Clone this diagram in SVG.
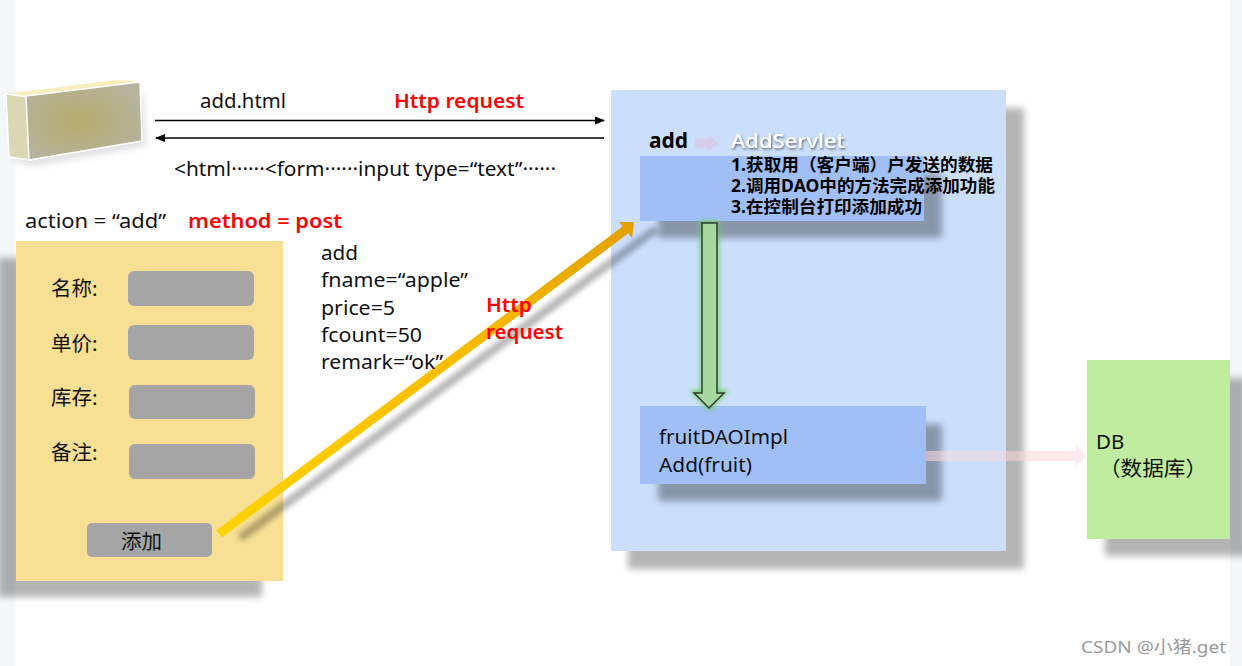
<svg xmlns="http://www.w3.org/2000/svg" width="1242" height="666" viewBox="0 0 1242 666">
<style>
text{font-family:"Noto Sans","Noto Sans CJK SC",sans-serif;font-size:20.5px;fill:#111}
.b{font-weight:700}
.r{font-weight:600;fill:#f00}
.s{font-weight:700;font-size:17.300px;fill:#000}
.sh{fill:#000;opacity:.29;filter:url(#blur)}
.sh2{fill:#000;opacity:.32;filter:url(#blur)}
.field{fill:#a5a5a5}
</style>
<defs>
<filter id="blur" x="-20%" y="-20%" width="140%" height="140%"><feGaussianBlur stdDeviation="3.500"/></filter>
<filter id="blur2" x="-100%" y="-20%" width="300%" height="140%"><feGaussianBlur stdDeviation="2.500"/></filter>
<filter id="ts" x="-10%" y="-30%" width="120%" height="160%"><feDropShadow dx="1" dy="1.500" stdDeviation=".8" flood-color="#000" flood-opacity=".55"/></filter>
<radialGradient id="box" cx=".45" cy=".5" r=".6"><stop offset="0" stop-color="#b7ad6e"/><stop offset="1" stop-color="#b6b29d"/></radialGradient>
<linearGradient id="gold" gradientUnits="userSpaceOnUse" x1="219" y1="534" x2="630" y2="226"><stop offset="0" stop-color="#ffd400"/><stop offset=".6" stop-color="#fbbb00"/><stop offset="1" stop-color="#e2a100"/></linearGradient>
<marker id="ah" markerWidth="10" markerHeight="8" refX="9" refY="4" orient="auto" markerUnits="userSpaceOnUse"><path d="M0 0L10 4L0 8Z" fill="#000"/></marker>
</defs>
<rect width="1242" height="666" fill="#fff"/>
<rect width="15.500" height="666" fill="#f4f6f9"/>
<rect x="1230" width="12" height="666" fill="#f4f6f9"/>
<g id="browser">
<path d="M10 160L34 166L146 146L143 92Z" fill="#000" opacity=".12" filter="url(#blur)"/>
<path d="M6 94L28 97L140 81L115 80Z" fill="#f8eebc"/>
<path d="M6 94L28 97L30 160L9 157Z" fill="#dbd6b4" stroke="#fff" stroke-width="1.500"/>
<path d="M26 96L140 82L142 141L29 160Z" fill="url(#box)" stroke="#fff" stroke-width="1.500"/>
</g>
<g id="form">
<rect x="-2" y="258" width="264" height="339" class="sh"/>
<rect x="16" y="241" width="267" height="340" fill="#f7df94"/>
<rect x="128" y="271" width="126" height="35" rx="6" class="field"/>
<rect x="128" y="325" width="126" height="35" rx="6" class="field"/>
<rect x="129" y="385" width="126" height="34" rx="6" class="field"/>
<rect x="129" y="444" width="126" height="35" rx="6" class="field"/>
<rect x="87" y="523" width="125" height="34" rx="5" class="field"/>
<text x="51" y="296">名称:</text>
<text x="51" y="351">单价:</text>
<text x="51" y="405">库存:</text>
<text x="51" y="460">备注:</text>
<text x="121" y="549">添加</text>
</g>
<g id="server">
<rect x="628" y="108" width="396" height="461" class="sh"/>
<rect x="611" y="90" width="395" height="461" fill="#cbdffd"/>
</g>
<g id="database">
<rect x="1105" y="378" width="143" height="178" class="sh"/>
<rect x="1087" y="360" width="143" height="179" fill="#c0eca0"/>
<text x="1096" y="449">DB</text>
<text x="1099" y="476" textLength="108" lengthAdjust="spacingAndGlyphs">（数据库）</text>
</g>
<g id="servlet">
<rect x="658" y="174" width="284" height="64" class="sh2"/>
<rect x="640" y="156" width="284" height="65" fill="#a0bff7"/>
</g>
<g id="dao">
<rect x="658" y="424" width="284" height="77" class="sh2"/>
<rect x="640" y="406" width="286" height="78" fill="#a0bff7"/>
<text x="659" y="444" textLength="129" lengthAdjust="spacingAndGlyphs">fruitDAOImpl</text>
<text x="659" y="472" textLength="93" lengthAdjust="spacingAndGlyphs">Add(fruit)</text>
</g>
<g id="connectors">
<path d="M155 120.500H604" stroke="#000" stroke-width="1.500" marker-end="url(#ah)" fill="none"/>
<path d="M604 138H156" stroke="#000" stroke-width="1.500" marker-end="url(#ah)" fill="none"/>
<path d="M240 538L656 229" stroke="#000" stroke-width="9" opacity=".27" fill="none" filter="url(#blur2)"/>
<path d="M219 534L628 228" stroke="url(#gold)" stroke-width="9" fill="none"/>
<path d="M634 222L632 238L619 222Z" fill="#e2a100"/>
<path d="M702 223V392H694L709 408L724 392H717V223Z" fill="none" stroke="#6fd05f" stroke-width="4" filter="url(#blur2)"/>
<path d="M702 223H717V393H724L709 408L694 393H702Z" fill="#a4d89c" stroke="#2f3b2f" stroke-width="1.500"/>
<path d="M695 138.500H708V135L719 143L708 151V148H695Z" fill="#d8c8e8" opacity=".8"/>
<path d="M926 451H1076V445L1086 456L1076 466V461H926Z" fill="#f9d8d8" opacity=".55"/>
</g>
<g id="labels">
<text x="200" y="108" textLength="86" lengthAdjust="spacingAndGlyphs">add.html</text>
<text x="394" y="108" class="r" textLength="130" lengthAdjust="spacingAndGlyphs">Http request</text>
<text x="174" y="176" textLength="382" lengthAdjust="spacingAndGlyphs">&lt;html······&lt;form······input type=“text”······</text>
<text x="25" y="228" textLength="141" lengthAdjust="spacingAndGlyphs">action = “add”</text>
<text x="188" y="228" class="r" textLength="154" lengthAdjust="spacingAndGlyphs">method = post</text>
<text x="321" y="260" textLength="37" lengthAdjust="spacingAndGlyphs">add</text>
<text x="321" y="287" textLength="147" lengthAdjust="spacingAndGlyphs">fname=“apple”</text>
<text x="321" y="315" textLength="74" lengthAdjust="spacingAndGlyphs">price=5</text>
<text x="321" y="342" textLength="101" lengthAdjust="spacingAndGlyphs">fcount=50</text>
<text x="321" y="369" textLength="122" lengthAdjust="spacingAndGlyphs">remark=“ok”</text>
<text x="486" y="312" class="r" textLength="46" lengthAdjust="spacingAndGlyphs">Http</text>
<text x="486" y="339" class="r" textLength="77" lengthAdjust="spacingAndGlyphs">request</text>
<text x="649" y="148" class="b" style="fill:#000" textLength="39" lengthAdjust="spacingAndGlyphs">add</text>
<text x="731" y="148" filter="url(#ts)" style="fill:#fff;font-weight:500" textLength="114" lengthAdjust="spacingAndGlyphs">AddServlet</text>
<text x="731" y="171" class="s" textLength="262" lengthAdjust="spacingAndGlyphs">1.获取用（客户端）户发送的数据</text>
<text x="731" y="192" class="s" textLength="264" lengthAdjust="spacingAndGlyphs">2.调用DAO中的方法完成添加功能</text>
<text x="731" y="213" class="s" textLength="191" lengthAdjust="spacingAndGlyphs">3.在控制台打印添加成功</text>
<text x="1081" y="653" style="font-size:17px;fill:#9a9a9a;font-weight:400" textLength="145" lengthAdjust="spacingAndGlyphs">CSDN @小猪.get</text>
</g>
</svg>
